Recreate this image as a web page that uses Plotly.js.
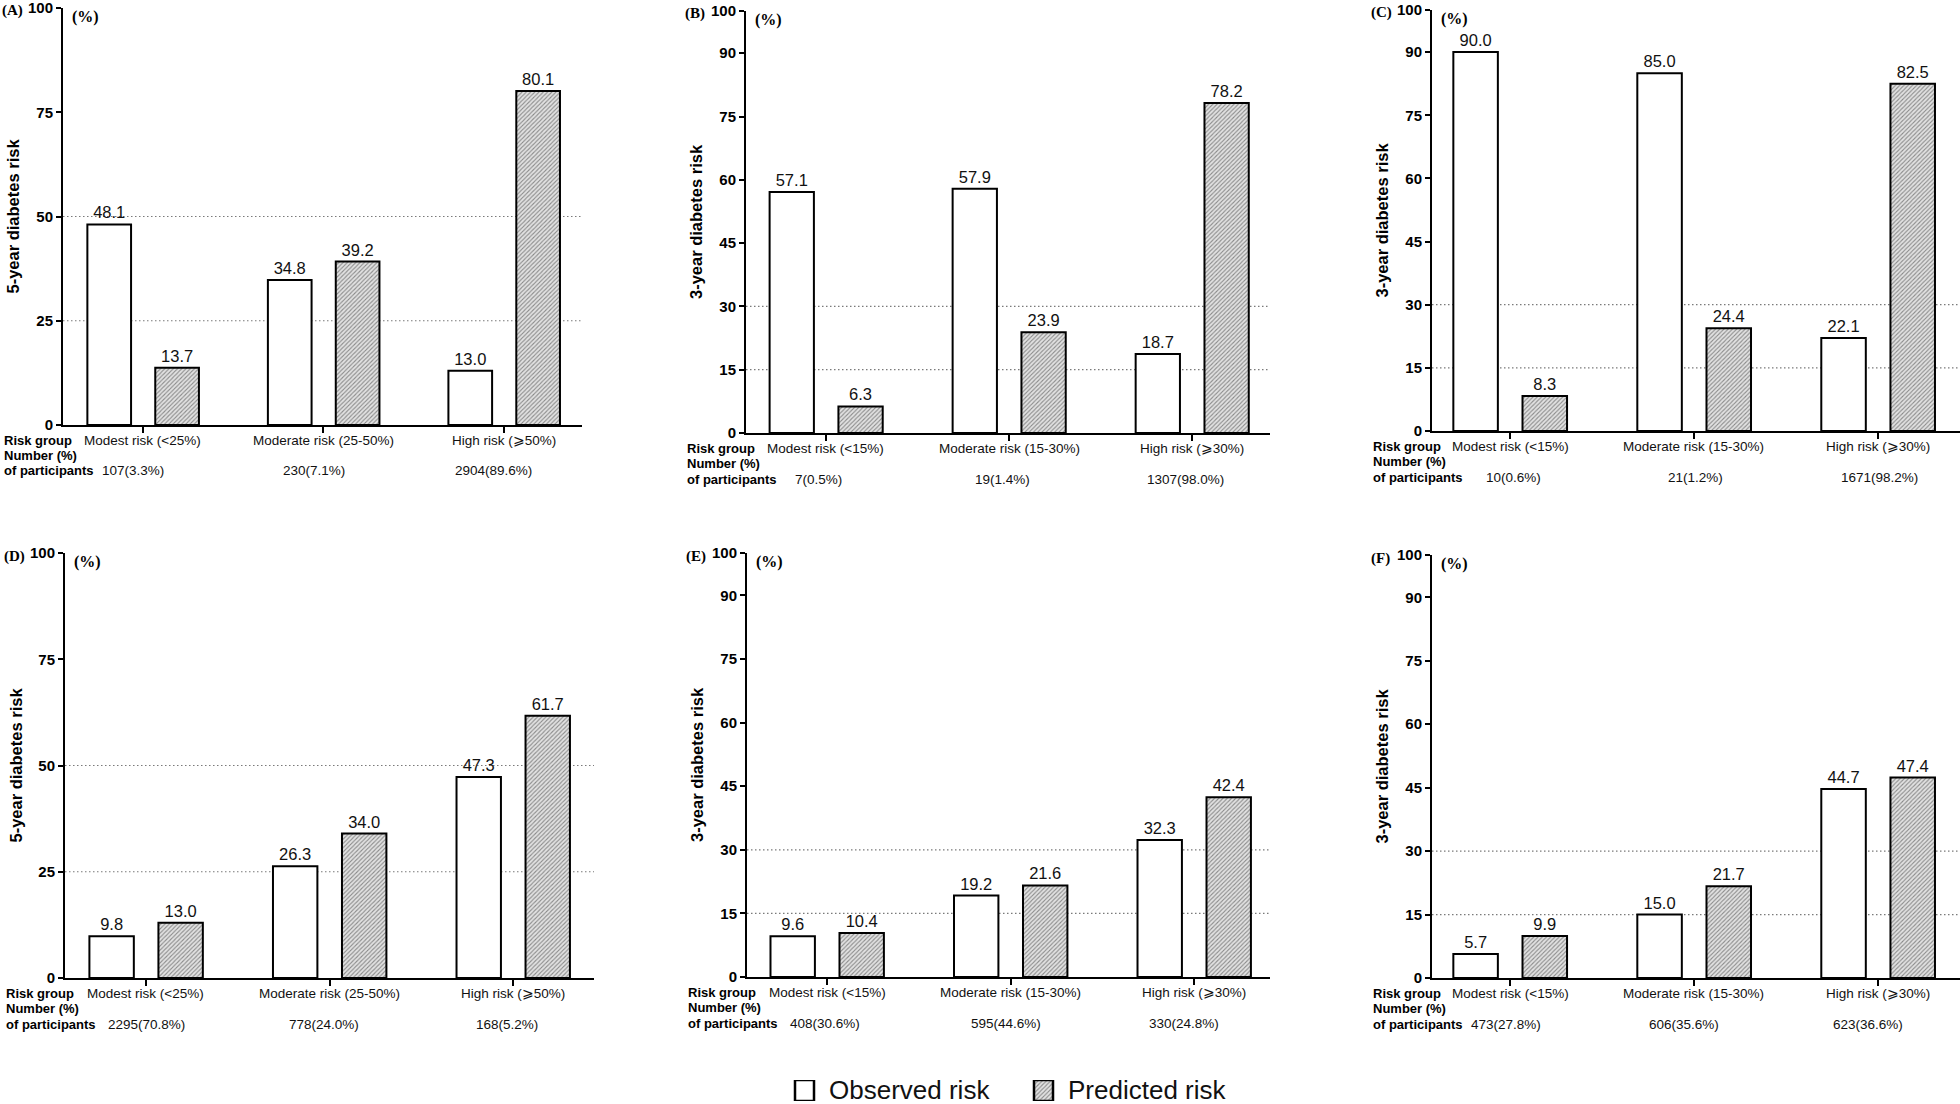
<!DOCTYPE html>
<html><head><meta charset="utf-8">
<script src="https://cdn.plot.ly/plotly-3.0.1.min.js"></script>
<style>html,body{margin:0;padding:0;background:#fff}#chart{width:1960px;height:1104px}</style>
</head><body><div id="chart"></div>
<script>
// ---------- data ----------
const panelLetters = ['(A)','(B)','(C)','(D)','(E)','(F)'];
const yTitles = ['5-year diabetes risk','3-year diabetes risk','3-year diabetes risk',
                 '5-year diabetes risk','3-year diabetes risk','3-year diabetes risk'];
const categories5yr = ['Modest risk (<25%)','Moderate risk (25-50%)','High risk (\u2A7E50%)'];
const categories3yr = ['Modest risk (<15%)','Moderate risk (15-30%)','High risk (\u2A7E30%)'];

const observedA = [48.1, 34.8, 13.0];
const predictedA = [13.7, 39.2, 80.1];
const participantsA = ['107(3.3%)','230(7.1%)','2904(89.6%)'];

const observedB = [57.1, 57.9, 18.7];
const predictedB = [6.3, 23.9, 78.2];
const participantsB = ['7(0.5%)','19(1.4%)','1307(98.0%)'];

const observedC = [90.0, 85.0, 22.1];
const predictedC = [8.3, 24.4, 82.5];
const participantsC = ['10(0.6%)','21(1.2%)','1671(98.2%)'];

const observedD = [9.8, 26.3, 47.3];
const predictedD = [13.0, 34.0, 61.7];
const participantsD = ['2295(70.8%)','778(24.0%)','168(5.2%)'];

const observedE = [9.6, 19.2, 32.3];
const predictedE = [10.4, 21.6, 42.4];
const participantsE = ['408(30.6%)','595(44.6%)','330(24.8%)'];

const observedF = [5.7, 15.0, 44.7];
const predictedF = [9.9, 21.7, 47.4];
const participantsF = ['473(27.8%)','606(35.6%)','623(36.6%)'];

const ticks5yr = [0, 25, 50, 75, 100];
const ticks3yr = [0, 15, 30, 45, 60, 75, 90, 100];
const grid5yr = [25, 50];
const grid3yr = [15, 30];

const rowLabels = ['Risk group', 'Number (%)', 'of participants'];
const legendLabels = ['Observed risk', 'Predicted risk'];

// ---------- assemble ----------
const panels = [
  {cats: categories5yr, obs: observedA, pred: predictedA, n: participantsA, ticks: ticks5yr, grid: grid5yr},
  {cats: categories3yr, obs: observedB, pred: predictedB, n: participantsB, ticks: ticks3yr, grid: grid3yr},
  {cats: categories3yr, obs: observedC, pred: predictedC, n: participantsC, ticks: ticks3yr, grid: grid3yr},
  {cats: categories5yr, obs: observedD, pred: predictedD, n: participantsD, ticks: ticks5yr, grid: grid5yr},
  {cats: categories3yr, obs: observedE, pred: predictedE, n: participantsE, ticks: ticks3yr, grid: grid3yr},
  {cats: categories3yr, obs: observedF, pred: predictedF, n: participantsF, ticks: ticks3yr, grid: grid3yr}
];

// layout geometry (pixels in the 1960x1104 page)
const W = 1960, H = 1104;
const boxes = [
  {l: 63,  r: 582,  t: 8,   b: 425, xr: [-0.443, 2.432], nShift: [-10, -9, -11]},
  {l: 746, r: 1270, t: 11,  b: 433, xr: [-0.437, 2.426], nShift: [-7, -7, -7]},
  {l: 1432,r: 1960, t: 10,  b: 431, xr: [-0.424, 2.446], nShift: [3, 2, 2]},
  {l: 65,  r: 594,  t: 553, b: 978, xr: [-0.441, 2.441], nShift: [1, -6, -6]},
  {l: 747, r: 1270, t: 553, b: 977, xr: [-0.436, 2.414], nShift: [-2, -5, -10]},
  {l: 1432,r: 1960, t: 555, b: 978, xr: [-0.424, 2.446], nShift: [-4, -10, -10]}
];

const SANS = 'Liberation Sans, Arial, Helvetica, sans-serif';
const SERIF = 'Liberation Serif, Times New Roman, serif';
const hatch = {shape: '/', bgcolor: '#e2e2e2', fgcolor: '#8a8a8a', size: 3, solidity: 0.35};

const traces = [];
const layout = {
  width: W, height: H,
  margin: {l: 0, r: 0, t: 0, b: 0},
  paper_bgcolor: '#fff', plot_bgcolor: 'rgba(0,0,0,0)',
  showlegend: false, barmode: 'overlay',
  annotations: [], shapes: []
};
const py = v => 1 - v / H;

panels.forEach((p, i) => {
  const s = i === 0 ? '' : String(i + 1);
  const g = boxes[i];
  const idx = p.cats.map((c, k) => k);
  const common = {
    type: 'bar', x: p.cats, xaxis: 'x' + s, yaxis: 'y' + s, width: 0.242,
    texttemplate: '%{y:.1f}', textposition: 'outside', cliponaxis: false,
    constraintext: 'none', textfont: {family: SANS, size: 16.5, color: '#111'},
    hoverinfo: 'skip', showlegend: false
  };
  traces.push(Object.assign({}, common, {
    y: p.obs, offset: -0.308, name: legendLabels[0],
    marker: {color: '#fff', line: {color: '#000', width: 2}}
  }));
  traces.push(Object.assign({}, common, {
    y: p.pred, offset: 0.068, name: legendLabels[1],
    marker: {color: '#d0d0d0', pattern: hatch, line: {color: '#000', width: 2}}
  }));

  layout['xaxis' + s] = {
    domain: [g.l / W, g.r / W], range: g.xr, type: 'category', anchor: 'y' + s,
    showline: true, linecolor: '#000', linewidth: 2,
    ticks: 'outside', ticklen: 6, tickwidth: 2, tickcolor: '#000',
    showticklabels: false, showgrid: false, zeroline: false, fixedrange: true
  };
  layout['yaxis' + s] = {
    domain: [py(g.b), py(g.t)], range: [0, 100], anchor: 'x' + s,
    tickmode: 'array', tickvals: p.ticks, ticklabeloverflow: 'allow',
    showline: true, linecolor: '#000', linewidth: 2,
    ticks: 'outside', ticklen: 5, tickwidth: 2, tickcolor: '#000',
    tickfont: {family: SANS, size: 15, weight: 700, color: '#000'},
    showgrid: false, zeroline: false, fixedrange: true
  };

  p.grid.forEach(v => layout.shapes.push({
    type: 'line', xref: 'x' + s + ' domain', yref: 'y' + s, x0: 0, x1: 1, y0: v, y1: v,
    layer: 'below', line: {color: '#7a7a7a', width: 1.2, dash: '1.5px,2.5px'}
  }));

  const A = layout.annotations;
  A.push({xref: 'paper', yref: 'paper', x: (g.l - 63) / W, y: py(g.t + 3), xanchor: 'left', yanchor: 'middle',
          text: '<b>' + panelLetters[i] + '</b>', showarrow: false, font: {family: SERIF, size: 15, color: '#000'}});
  A.push({xref: 'paper', yref: 'paper', x: (g.l + 7) / W, y: py(g.t + 9), xanchor: 'left', yanchor: 'middle',
          text: '<b>(%)</b>', showarrow: false, font: {family: SERIF, size: 16, color: '#000'}});
  A.push({xref: 'paper', yref: 'paper', x: (g.l - 50) / W, y: py((g.t + g.b) / 2), xanchor: 'center', yanchor: 'middle',
          textangle: -90, text: '<b>' + yTitles[i] + '</b>', showarrow: false, font: {family: SANS, size: 16.5, color: '#000'}});
  rowLabels.forEach((t, k) => A.push({
    xref: 'paper', yref: 'paper', x: (g.l - 61) / W, y: py(g.b + 15 + k * 15.5), xanchor: 'left', yanchor: 'middle',
    text: '<b>' + t + '</b>', showarrow: false, font: {family: SANS, size: 13, color: '#000'}
  }));
  idx.forEach(k => {
    A.push({xref: 'x' + s, yref: 'paper', x: k, y: py(g.b + 15), xanchor: 'center', yanchor: 'middle',
            text: p.cats[k], showarrow: false, font: {family: SANS, size: 13.5, color: '#111'}});
    A.push({xref: 'x' + s, yref: 'paper', x: k, xshift: g.nShift[k], y: py(g.b + 46), xanchor: 'center', yanchor: 'middle',
            text: p.n[k], showarrow: false, font: {family: SANS, size: 13.5, color: '#111'}});
  });
});

// legend drawn as two small bars on their own hidden axis
traces.push({type: 'bar', x: [0], y: [1], base: 0, width: 0.0795, xaxis: 'x7', yaxis: 'y7',
  marker: {color: '#fff', line: {color: '#000', width: 2.5}}, hoverinfo: 'skip', showlegend: false});
traces.push({type: 'bar', x: [1], y: [1], base: 0, width: 0.0795, xaxis: 'x7', yaxis: 'y7',
  marker: {color: '#d0d0d0', pattern: hatch, line: {color: '#000', width: 2.5}}, hoverinfo: 'skip', showlegend: false});
layout.xaxis7 = {domain: [780 / W, 1240 / W], range: [-0.1025, 1.8222], visible: false, fixedrange: true, anchor: 'y7'};
layout.yaxis7 = {domain: [py(1101), py(1080)], range: [0, 1], visible: false, fixedrange: true, anchor: 'x7'};
legendLabels.forEach((t, k) => layout.annotations.push({
  xref: 'x7', yref: 'paper', x: k, xshift: 22, y: py(1090), xanchor: 'left', yanchor: 'middle',
  text: t, showarrow: false, font: {family: SANS, size: 26, color: '#111'}
}));

Plotly.newPlot('chart', traces, layout, {staticPlot: true, displayModeBar: false});
</script></body></html>
